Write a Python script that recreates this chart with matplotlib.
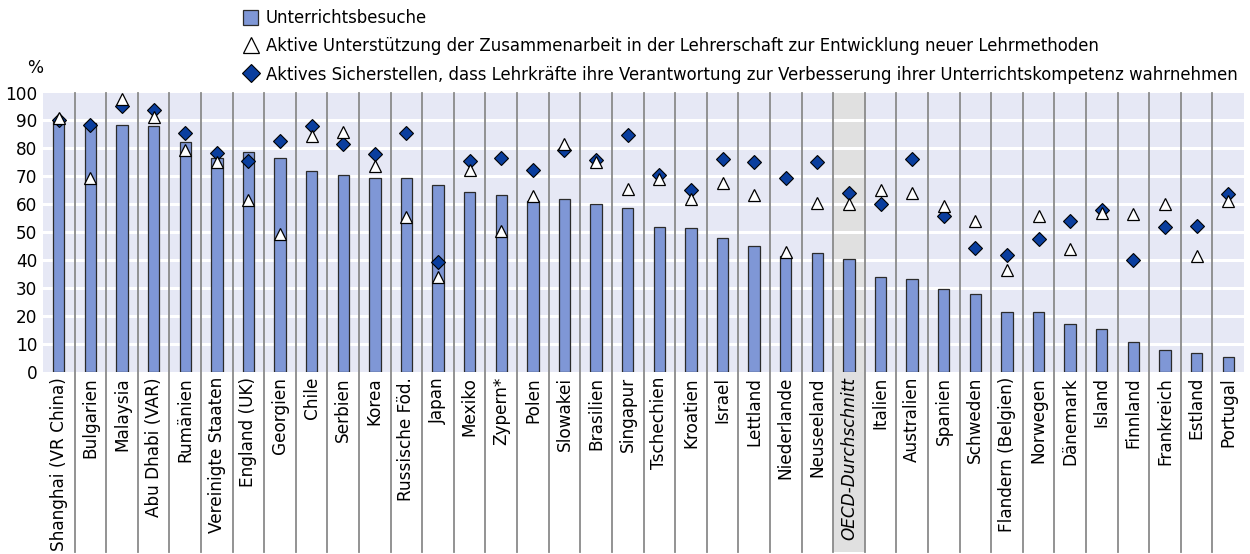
import matplotlib.pyplot as plt
import matplotlib.transforms as mtransforms
from matplotlib.lines import Line2D
from matplotlib.patches import Patch, Rectangle
import numpy as np

plt.rcParams["font.family"] = ["DejaVu Sans"]

countries = [
    "Shanghai (VR China)", "Bulgarien", "Malaysia", "Abu Dhabi (VAR)", "Rumänien",
    "Vereinigte Staaten", "England (UK)", "Georgien", "Chile", "Serbien", "Korea",
    "Russische Föd.", "Japan", "Mexiko", "Zypern*", "Polen", "Slowakei", "Brasilien",
    "Singapur", "Tschechien", "Kroatien", "Israel", "Lettland", "Niederlande",
    "Neuseeland", "OECD-Durchschnitt", "Italien", "Australien", "Spanien", "Schweden",
    "Flandern (Belgien)", "Norwegen", "Dänemark", "Island", "Finnland", "Frankreich",
    "Estland", "Portugal",
]
# Unterrichtsbesuche (bars)
visits = [
    89.6, 89.0, 88.4, 88.1, 82.4, 76.5, 78.6, 76.4, 71.7, 70.4, 69.5,
    69.2, 66.9, 64.3, 63.2, 61.1, 61.9, 60.0, 58.6, 51.8, 51.3, 47.7,
    45.1, 41.5, 42.3, 40.5, 33.8, 33.1, 29.5, 27.8, 21.5, 21.2, 17.1,
    15.1, 10.6, 7.7, 6.8, 5.3,
]
# Aktive Unterstützung der Zusammenarbeit (triangles)
collaboration = [
    91.0, 69.4, 97.8, 91.3, 79.5, 75.0, 61.3, 49.3, 84.3, 85.9, 73.5,
    55.4, 34.0, 72.4, 50.2, 63.0, 81.6, 75.2, 65.4, 69.0, 61.8, 67.6,
    63.4, 42.7, 60.3, 59.9, 64.9, 64.0, 59.4, 53.9, 36.4, 55.6, 43.9,
    56.8, 56.6, 59.9, 41.5, 61.0,
]
# Aktives Sicherstellen der Verantwortung (diamonds)
responsibility = [
    90.0, 88.5, 95.3, 93.6, 85.5, 78.3, 75.3, 82.8, 88.1, 81.6, 78.1,
    85.4, 39.1, 75.5, 76.4, 72.2, 79.3, 75.7, 84.6, 70.6, 65.2, 76.2,
    75.1, 69.2, 75.1, 64.0, 59.9, 76.3, 55.9, 44.2, 41.7, 47.6, 53.8,
    58.0, 40.0, 51.8, 52.2, 63.6,
]
avg_label = "OECD-Durchschnitt"

bar_color = "#7F97D6"
diamond_color = "#0A3E9E"
bg_color = "#E6E8F5"
sep_color = "#8A8A8A"
fs = 12.2

x = np.arange(len(countries))

fig = plt.figure(figsize=(12.5, 5.54), dpi=100)
ax = fig.add_axes([0.0344, 0.3294, 0.9608, 0.5036])
ax.set_facecolor(bg_color)
ax.set_xlim(-0.5, len(countries) - 0.5)
ax.set_ylim(0, 100)

trans = mtransforms.blended_transform_factory(ax.transData, ax.transAxes)
label_bottom = -0.647

# shaded column for the OECD average
i_avg = countries.index(avg_label)
ax.add_patch(Rectangle((i_avg - 0.5, label_bottom), 1.0, 1.0 - label_bottom,
                       transform=trans, facecolor="#E0E0E0", edgecolor="none",
                       clip_on=False, zorder=0.5))

# horizontal white gridlines
for yv in range(10, 100, 10):
    ax.axhline(yv, color="white", lw=2.2, zorder=1)

# vertical separators running down through the label area
for xs in x[:-1] + 0.5:
    ax.plot([xs, xs], [label_bottom, 1.0], transform=trans, color=sep_color,
            lw=1.3, clip_on=False, zorder=1.5)

ax.bar(x, visits, width=0.36, color=bar_color, edgecolor="#2B2B2B",
       linewidth=0.9, zorder=2)
ax.plot(x, responsibility, linestyle="none", marker="D", markersize=7,
        markerfacecolor=diamond_color, markeredgecolor="black",
        markeredgewidth=0.8, zorder=3)
ax.plot(x, collaboration, linestyle="none", marker="^", markersize=9,
        markerfacecolor="white", markeredgecolor="black",
        markeredgewidth=0.9, zorder=4)

for side in ax.spines.values():
    side.set_visible(False)

ax.set_yticks(range(0, 101, 10))
ax.tick_params(axis="y", length=0, pad=4, labelsize=fs)
ax.set_xticks(x)
ax.set_xticklabels(countries, rotation=90, fontsize=fs)
ax.tick_params(axis="x", length=0, pad=4)
for lbl in ax.get_xticklabels():
    if lbl.get_text() == avg_label:
        lbl.set_fontstyle("italic")

fig.text(0.0215, 0.878, "%", fontsize=fs, ha="left", va="center")

handles = [
    Patch(facecolor=bar_color, edgecolor="#2B2B2B", linewidth=0.9),
    Line2D([], [], linestyle="none", marker="^", markersize=12,
           markerfacecolor="white", markeredgecolor="black", markeredgewidth=0.9),
    Line2D([], [], linestyle="none", marker="D", markersize=9,
           markerfacecolor=diamond_color, markeredgecolor="black",
           markeredgewidth=0.8),
]
labels = [
    "Unterrichtsbesuche",
    "Aktive Unterstützung der Zusammenarbeit in der Lehrerschaft zur Entwicklung neuer Lehrmethoden",
    "Aktives Sicherstellen, dass Lehrkräfte ihre Verantwortung zur Verbesserung ihrer Unterrichtskompetenz wahrnehmen",
]
fig.legend(handles, labels, loc="upper left", bbox_to_anchor=(0.192, 0.99),
           frameon=False, fontsize=11.9, handlelength=0.9, handleheight=1.0,
           handletextpad=0.45, labelspacing=0.64, borderpad=0.2,
           borderaxespad=0)

fig.savefig("out.png", dpi=100)
